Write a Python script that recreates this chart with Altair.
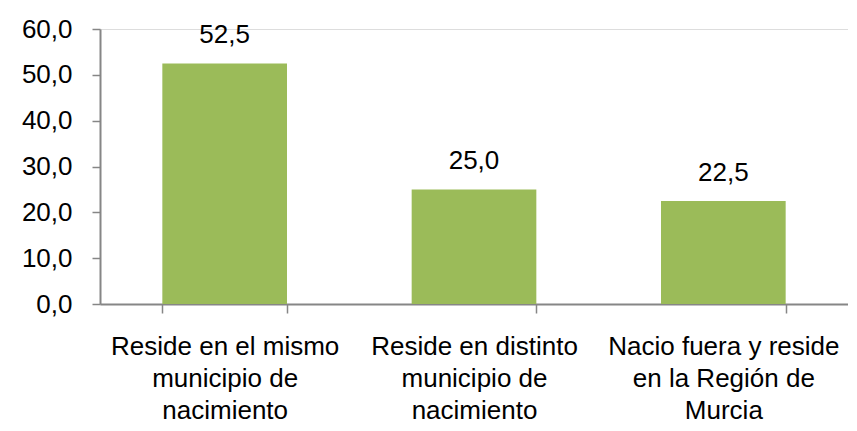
import altair as alt
import pandas as pd

categories = [
    "Reside en el mismo|municipio de|nacimiento",
    "Reside en distinto|municipio de|nacimiento",
    "Nacio fuera y reside|en la Región de|Murcia",
]
values = [52.5, 25.0, 22.5]
y_ticks = [0, 10, 20, 30, 40, 50, 60]

df = pd.DataFrame({"cat": categories, "val": values})

FONT = "Liberation Sans, Arial, sans-serif"
GRAY = "#868686"
FS = 26

base = alt.Chart(df).encode(
    x=alt.X(
        "cat:N",
        sort=categories,
        scale=alt.Scale(paddingInner=0.5, paddingOuter=0.25),
        axis=alt.Axis(
            title=None,
            labelAngle=0,
            labelExpr="split(datum.label, '|')",
            labelFont=FONT,
            labelFontSize=FS,
            labelColor="#000000",
            labelLineHeight=32,
            labelPadding=20,
            labelBaseline="top",
            labelLimit=0,
            tickBand="extent",
            tickSize=9,
            tickColor=GRAY,
            tickWidth=1.5,
            domainColor=GRAY,
            domainWidth=2,
            grid=False,
        ),
    ),
    y=alt.Y(
        "val:Q",
        scale=alt.Scale(domain=[0, 60], nice=False),
        axis=alt.Axis(
            title=None,
            values=y_ticks,
            labelExpr="replace(format(datum.value, '.1f'), '.', ',')",
            labelFont=FONT,
            labelFontSize=FS,
            labelColor="#000000",
            labelPadding=20,
            tickSize=8,
            tickColor=GRAY,
            tickWidth=1.5,
            domainColor=GRAY,
            domainWidth=2,
            grid=False,
        ),
    ),
)

bars = base.mark_bar(color="#9BBB59")

text = base.transform_calculate(
    lbl="replace(format(datum.val, '.1f'), '.', ',')"
).mark_text(
    font=FONT, fontSize=FS, color="#000000", baseline="bottom", dy=-15
).encode(text="lbl:N")

chart = (
    alt.layer(bars, text)
    .properties(
        width=748,
        height=275,
        autosize=alt.AutoSizeParams(type="none"),
        padding={"left": 92, "top": 21, "right": 0, "bottom": 122},
    )
    .configure_view(stroke=None)
    .configure(background="white")
)

chart.save("out.html", embed_options={"renderer": "svg", "actions": False})
